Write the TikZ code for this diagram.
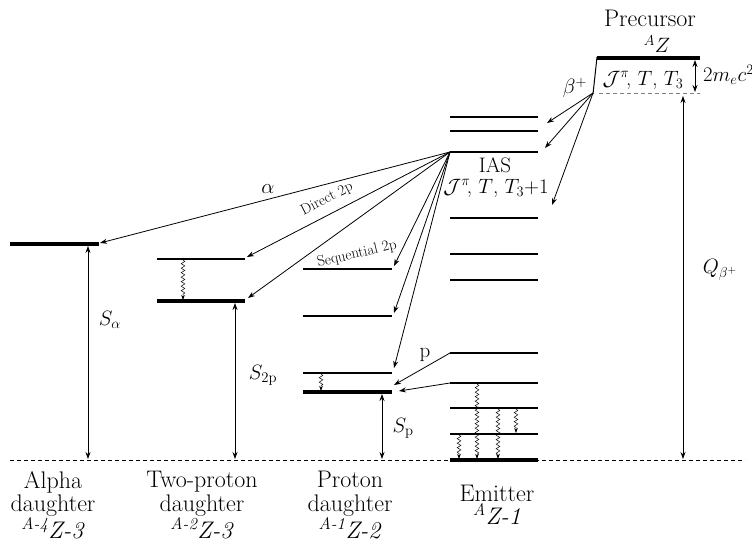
\documentclass[tikz,border=0pt]{standalone}
\usepackage{amsmath,amssymb}
\usepackage{fontspec}
\usepackage{tikz}
\usetikzlibrary{arrows.meta,positioning,decorations.pathmorphing}

\begin{document}
\begin{tikzpicture}[
    x=1pt, y=-1pt,
    level/.style={line width=1.6pt},
    glevel/.style={line width=3.6pt},
    arrow/.style={-{Stealth[length=7pt,width=5pt]}, line width=0.8pt},
    darrow/.style={{Stealth[length=7pt,width=5pt]}-{Stealth[length=7pt,width=5pt]},
                   line width=0.8pt},
    gam/.style={-{Stealth[length=5pt,width=3.5pt]}, line width=0.5pt, decorate,
                decoration={snake, amplitude=1.8pt, segment length=4.5pt,
                            post length=4pt}},
    lbl/.style={font=\fontsize{21}{23.5}\selectfont, align=center, inner sep=0pt},
    tlbl/.style={font=\fontsize{24}{23.5}\selectfont, align=center, inner sep=0pt},
    slbl/.style={font=\fontsize{15}{17}\selectfont, inner sep=0pt}
]
\useasboundingbox (0,0) rectangle (752,545);

% Ground line
\draw[dashed, dash pattern=on 4pt off 3pt, line width=1pt] (10,460) -- (745,460);

% Alpha daughter
\draw[glevel] (10,244) -- (99,244);
\coordinate (aR) at (100,243);
\draw[darrow] (88,246) -- (88,459);
\node[lbl] (sa) at (110,320) {$S_{\alpha}$};

% Two-proton daughter
\draw[level] (157,259) -- (245,259);
\draw[glevel] (157,301) -- (245,301);
\coordinate (tp1) at (247,257);
\coordinate (tp0) at (248,298);
\draw[gam] (183,260) -- (183,300);
\draw[darrow] (235,303) -- (235,459);
\node[lbl] (stp) at (263,375) {$S_{\mathrm{2p}}$};

% Proton daughter
\foreach \y in {269,316,373} \draw[level] (303,\y) -- (392,\y);
\draw[glevel] (303,392) -- (392,392);
\coordinate (p2) at (394,266);
\coordinate (p1) at (394,313);
\coordinate (p0a) at (394,368);
\coordinate (p0b) at (394,385);
\coordinate (p0c) at (399,391);
\draw[gam] (321,374) -- (321,391);
\draw[darrow] (382,394) -- (382,459);
\node[lbl] (sp) at (403,428) {$S_{\mathrm{p}}$};

% Emitter
\foreach \y in {117,131,152,218,254,280,353,383,408,434}
    \draw[level] (450,\y) -- (538,\y);
\draw[glevel] (450,460) -- (538,460);
\coordinate (ias) at (450,152);
\coordinate (e353) at (450,353);
\coordinate (e383) at (450,383);
\draw[gam] (477,384) -- (477,459);
\draw[gam] (498,409) -- (498,459);
\draw[gam] (516,409) -- (516,433);
\draw[gam] (459,435) -- (459,459);
\node[lbl] (iasl) at (495,165) {IAS};
\node[lbl] (iasq) at (496,188) {$\mathcal{J}^{\pi}\!$, $T$, $T_3{+}1$};

% Precursor
\draw[glevel] (597,58) -- (700,58);
\draw[line width=1pt] (597,57) -- (593,94);
\draw[gray, dashed, dash pattern=on 4pt off 3pt, line width=1pt] (599,93.5) -- (700,93.5);
\coordinate (bp) at (593,93);
\node[tlbl] (prec) at (650,18) {Precursor};
\node[lbl] (precz) at (657,44) {$^{A}Z$};
\node[lbl] (precq) at (643,80) {$\mathcal{J}^{\pi}\!$, $T$, $T_3$};
\draw[darrow] (695,60) -- (695,92);
\node[lbl, anchor=west] (me) at (703,75) {$2m_ec^2$};
\draw[darrow] (683,96) -- (683,459);
\node[lbl] (qb) at (720,270) {$Q_{\beta^{+}}$};

% Beta decay feeding
\node[lbl] (bl) at (575,88) {$\beta^{+}$};
\coordinate (b1) at (547,123);
\coordinate (b2) at (545,148);
\coordinate (b3) at (552,205);
\foreach \t in {b1,b2,b3} \draw[arrow] (bp) -- (\t);

% Particle emission from IAS
\draw[arrow] (ias) -- node[lbl, above=5pt, pos=0.52] {$\alpha$} (aR);
\draw[arrow] (ias) -- (tp1);
\node[slbl, rotate=27] (d2p) at (327,199) {Direct 2p};
\draw[arrow] (ias) -- (tp0);
\draw[arrow] (ias) -- (p2);
\node[slbl, rotate=13] (s2p) at (357,254) {Sequential 2p};
\draw[arrow] (ias) -- (p1);
\draw[arrow] (ias) -- (p0a);
\draw[arrow] (e353) -- (p0b);
\draw[arrow] (e383) -- (p0c);
\node[lbl] (pl) at (425,355) {p};

% Nucleus labels
\node[tlbl] (alab) at (53,505) {Alpha\\daughter\\\textit{\textsuperscript{A-4}Z-3}};
\node[tlbl] (tplab) at (202,505) {Two-proton\\daughter\\\textit{\textsuperscript{A-2}Z-3}};
\node[tlbl] (plab) at (350,505) {Proton\\daughter\\\textit{\textsuperscript{A-1}Z-2}};
\node[tlbl] (elab) at (497,505) {Emitter\\\textit{\textsuperscript{A}Z-1}};

\end{tikzpicture}
\end{document}
